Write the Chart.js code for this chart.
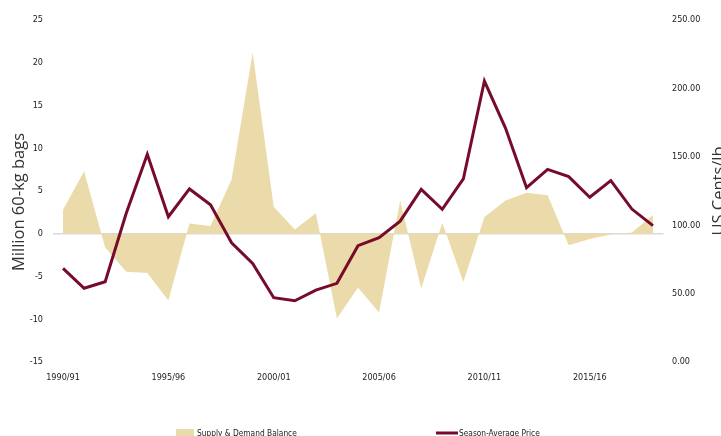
<!DOCTYPE html>
<html lang="en">
<head>
  <meta charset="UTF-8" />
  <title>Supply & Demand Balance vs Season-Average Price</title>
  <script src="https://cdn.jsdelivr.net/npm/chart.js"></script>
  <style>
    body {
      margin: 0;
      background: #ffffff;
      overflow: hidden;
    }
    #wrap {
      width: 721px;
      height: 436px;
    }
  </style>
</head>
<body>
  <div id="wrap"><canvas id="chart" width="721" height="436"></canvas></div>

  <script>
    const seasons = [
      "1990/91", "1991/92", "1992/93", "1993/94", "1994/95", "1995/96", "1996/97", "1997/98",
      "1998/99", "1999/00", "2000/01", "2001/02", "2002/03", "2003/04", "2004/05", "2005/06",
      "2006/07", "2007/08", "2008/09", "2009/10", "2010/11", "2011/12", "2012/13", "2013/14",
      "2014/15", "2015/16", "2016/17", "2017/18", "2018/19"
    ];
    // million 60-kg bags
    const balance = [2.8, 7.3, -1.6, -4.45, -4.6, -7.8, 1.2, 0.9, 6.35, 21.2, 3.15, 0.5, 2.4, -9.9, -6.3,
      -9.2, 3.9, -6.4, 1.3, -5.65, 1.95, 3.9, 4.8, 4.5, -1.35, -0.6, -0.1, 0.15, 2.2];
    // US cents/lb
    const price = [68.5, 53.9, 58.7, 108.7, 151.8, 106.2, 126.5, 115.0, 87.2, 72.1, 47.0, 44.8, 52.6, 57.5, 85.0,
      90.9, 103.0, 126.2, 111.6, 133.8, 205.4, 171.0, 127.4, 140.8, 135.5, 120.4, 132.6, 111.8, 99.7];

    const TAN = "#ebdbab";
    const MAROON = "#760b2b";
    const tickFont = { family: "'Liberation Sans Narrow', 'DejaVu Sans Condensed', sans-serif", size: 9 };
    const titleFont = "16.5px 'Open Sans', sans-serif";

    // axis titles + legend drawn by hand (right title reads bottom-to-top, legend spread wide)
    const extras = {
      id: "extras",
      afterDraw(chart) {
        const c = chart.ctx;
        c.save();
        c.fillStyle = "#333333";
        c.font = titleFont;
        c.textAlign = "center";
        c.textBaseline = "alphabetic";

        c.save();
        c.translate(24, 202);
        c.rotate(-Math.PI / 2);
        c.fillText("Million 60-kg bags", 0, 0);
        c.restore();

        c.save();
        c.translate(724, 191);
        c.rotate(-Math.PI / 2);
        c.fillText("US Cents/lb", 0, 0);
        c.restore();

        // legend
        c.font = "8.3px " + tickFont.family;
        c.textAlign = "left";
        c.textBaseline = "middle";
        const ly = 434;
        const ds = chart.data.datasets;
        c.fillStyle = ds[0].backgroundColor;
        c.fillRect(176, 429, 18, 12);
        c.fillStyle = "#222222";
        c.fillText(ds[0].label, 197, ly);

        c.strokeStyle = ds[1].borderColor;
        c.lineWidth = 3;
        c.beginPath();
        c.moveTo(436, 433);
        c.lineTo(458, 433);
        c.stroke();
        c.fillText(ds[1].label, 459, ly);
        c.restore();
      }
    };

    new Chart(document.getElementById("chart"), {
      type: "line",
      data: {
        labels: seasons,
        datasets: [
          {
            label: "Supply & Demand Balance",
            data: balance,
            yAxisID: "y",
            backgroundColor: TAN,
            borderWidth: 0,
            borderColor: TAN,
            fill: "origin",
            pointRadius: 0,
            tension: 0,
            order: 2
          },
          {
            label: "Season-Average Price",
            data: price,
            yAxisID: "y1",
            borderColor: MAROON,
            backgroundColor: MAROON,
            borderWidth: 3,
            fill: false,
            pointRadius: 0,
            tension: 0,
            order: 1
          }
        ]
      },
      options: {
        responsive: false,
        animation: false,
        layout: { padding: { top: 20, left: 0, right: 0, bottom: 0 } },
        plugins: {
          legend: { display: false },
          tooltip: { enabled: false }
        },
        scales: {
          x: {
            offset: true,
            grid: { display: false, drawTicks: false },
            border: { display: false },
            ticks: {
              autoSkip: false,
              maxRotation: 0,
              padding: 10,
              color: "#222222",
              font: tickFont,
              callback: function (v, i) { return i % 5 === 0 ? this.getLabelForValue(v) : ""; }
            },
            afterFit: (s) => { s.height = 74; }
          },
          y: {
            position: "left",
            min: -15,
            max: 25,
            grid: {
              drawTicks: false,
              lineWidth: 1.5,
              color: (ctx) => (ctx.tick && ctx.tick.value === 0 ? "#d9d9d9" : "rgba(0,0,0,0)")
            },
            border: { display: false },
            ticks: { stepSize: 5, padding: 9.5, color: "#222222", font: tickFont },
            afterFit: (s) => { s.width = 52.5; }
          },
          y1: {
            position: "right",
            min: 0,
            max: 250,
            grid: { display: false, drawTicks: false },
            border: { display: false },
            ticks: {
              stepSize: 50,
              padding: 8.5,
              color: "#222222",
              font: tickFont,
              callback: (v) => v.toFixed(2)
            },
            afterFit: (s) => { s.width = 57.5; }
          }
        }
      },
      plugins: [extras]
    });
  </script>
</body>
</html>
